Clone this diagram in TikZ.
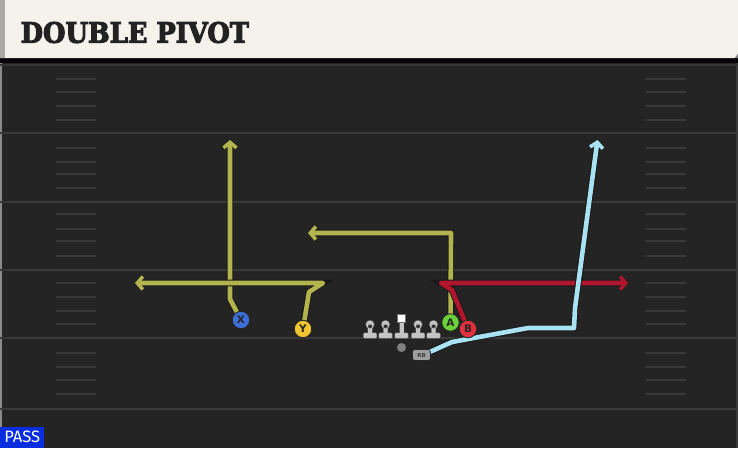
\documentclass[tikz,border=0pt]{standalone}
\usepackage{fontspec}
\setmainfont{DejaVu Sans}
\newfontfamily\titlefont{DejaVu Serif Bold}
\newfontfamily\passfont{Fira Sans}
\usetikzlibrary{arrows.meta}
\definecolor{fieldbg}{HTML}{242424}
\definecolor{fieldline}{HTML}{3A3A3A}
\definecolor{hashcol}{HTML}{393939}
\definecolor{cream}{HTML}{F5F2EB}
\definecolor{titlecol}{HTML}{222222}
\definecolor{yel}{HTML}{B4B44E}
\definecolor{redr}{HTML}{B0172E}
\definecolor{bluer}{HTML}{A9E3F3}
\definecolor{pblue}{HTML}{3C6FD8}
\definecolor{pyel}{HTML}{F2C531}
\definecolor{pgreen}{HTML}{6BD13A}
\definecolor{pred}{HTML}{E2303F}
\definecolor{lmgray}{HTML}{C4C4C4}
\definecolor{passblue}{HTML}{0B2DE0}
\pgfdeclarelayer{field}
\pgfdeclarelayer{routes}
\pgfsetlayers{field,routes,main}
\tikzset{
  route/.style={line width=4.6pt, line join=round,
    preaction={draw=black!90, line width=6.6pt}},
  tip/.style={-{Straight Barb[length=5.5pt,width=13pt,line width=3.6pt]}},
  player/.style={circle, draw=black!85, line width=0.9pt, minimum size=17.5pt,
    inner sep=0pt, font=\fontsize{10.5}{10.5}\selectfont\bfseries, text=black!85},
  hash/.style={hashcol, line width=1.6pt},
  fline/.style={fieldline, line width=2pt},
  lineman/.pic={
    \draw[black!65, line width=1.2pt, fill=black!65] (0,0) circle (4) (-2,0) rectangle (2,9);
    \draw[black!65, line width=1.2pt, fill=black!65, rounded corners=1pt] (-6.5,8.5) rectangle (6.5,13.5);
    \fill[lmgray] (0,0) circle (4) (-2,0) rectangle (2,9);
    \fill[lmgray, rounded corners=1pt] (-6.5,8.5) rectangle (6.5,13.5);
  },
  centerman/.pic={
    \draw[black!65, line width=1.2pt, fill=black!65] (-2,-2) rectangle (2,9);
    \draw[black!65, line width=1.2pt, fill=black!65, rounded corners=1pt] (-6.5,8.5) rectangle (6.5,13.5);
    \fill[lmgray] (-2,-2) rectangle (2,9);
    \fill[lmgray, rounded corners=1pt] (-6.5,8.5) rectangle (6.5,13.5);
    \fill[white, draw=black!55, line width=0.6pt] (-4,-10.5) rectangle (4,-2.5);
  }
}
\begin{document}
\begin{tikzpicture}[x=1pt,y=-1pt]
\useasboundingbox (0,0) rectangle (738,448);
\begin{pgfonlayer}{field}
  \fill[fieldbg] (0,0) rectangle (738,448);
  \fill[black!45] (0,58) rectangle (2,448);
  \fill[fieldline] (736,58) rectangle (738,448);
  \foreach \yy in {133,201.5,270,338,409} \draw[fline] (0,\yy) -- (738,\yy);
  \draw[fieldline!80!fieldbg, line width=1.5pt] (0,65) -- (738,65);
  \foreach \yy in {79,92,106,120,148,162,174,188,214,229,241,256,283,297,311,324,353,367,380,394} {
    \draw[hash] (56,\yy) -- (96,\yy);
    \draw[hash] (646,\yy) -- (686,\yy);
  }
  \fill[black!85!fieldbg] (0,58) rectangle (738,63);
  \fill[cream] (0,0) -- (738,0) -- (738,54) -- (735,58) -- (0,58) -- cycle;
  \fill[black!30!cream] (0,0) rectangle (5,58);
  \fill[black!50] (738,54) -- (738,58) -- (735,58) -- cycle;
\end{pgfonlayer}
\node[anchor=west, text=titlecol, inner sep=0pt] (title) at (20.5,32.5)
  {\scalebox{0.92}[1]{\titlefont\fontsize{28}{28}\selectfont\special{pdf:literal direct 2 Tr 1.1 w}DOUBLE PIVOT\special{pdf:literal direct 0 Tr}}};
\node[fill=passblue, anchor=south west, minimum width=44pt, minimum height=21pt, inner sep=0pt,
  text=white, font=\passfont\fontsize{16.5}{16.5}\selectfont] (pass) at (0,448) {PASS};
% linemen
\pic at (370,324.5) {lineman};
\pic at (385.5,324.5) {lineman};
\pic at (401.5,324.5) {centerman};
\pic at (418,324.5) {lineman};
\pic at (433.5,324.5) {lineman};
\node[circle, fill=black!50, minimum size=9pt, inner sep=0pt] (ball) at (401.5,347.5) {};
% players
\node[player, fill=pblue] (X) at (241,320) {X};
\node[player, fill=pyel] (Y) at (303,329) {Y};
\node[player, fill=pgreen] (A) at (450.5,322.5) {A};
\node[player, fill=pred] (B) at (468,329) {B};
\node[rounded corners=2.5pt, fill=black!38, draw=black!85, line width=0.6pt, minimum width=18pt,
  minimum height=11pt, inner sep=0pt, font=\fontsize{5.5}{5.5}\selectfont\bfseries, text=black!75] (RB) at (421.5,355) {RB};
\coordinate (xend) at (230,140);
\coordinate (yend) at (135,283);
\coordinate (aend) at (308,233);
\coordinate (bend) at (628,283);
\coordinate (rbend) at (597.5,140);
\begin{pgfonlayer}{routes}
  \draw[route, yel, tip] (X.center) -- (230,299) -- (xend);
  \draw[route, yel, tip] (Y.center) -- (309,292) -- (323,283) -- (yend);
  \draw[route, yel, tip] (A.center) -- (451,233) -- (aend);
  \draw[route, redr, tip] (B.center) -- (452,290) -- (441,283) -- (bend);
  \draw[route, bluer, tip] (RB.center) -- (432,351) -- (452,342) -- (528,328) -- (574,328) -- (575,308) -- (rbend);
\end{pgfonlayer}
\end{tikzpicture}
\end{document}
